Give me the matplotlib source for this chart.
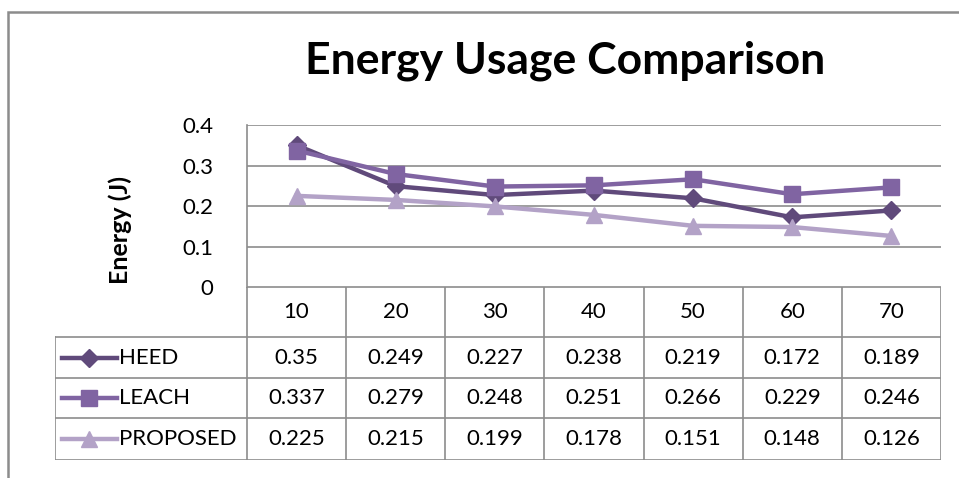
import matplotlib.pyplot as plt
from matplotlib.patches import Rectangle
from matplotlib.lines import Line2D

nodes = [10, 20, 30, 40, 50, 60, 70]
heed = [0.35, 0.249, 0.227, 0.238, 0.219, 0.172, 0.189]
leach = [0.337, 0.279, 0.248, 0.251, 0.266, 0.229, 0.246]
proposed = [0.225, 0.215, 0.199, 0.178, 0.151, 0.148, 0.126]
series_names = ["HEED", "LEACH", "PROPOSED"]
series_data = [heed, leach, proposed]
colors = ["#604A7B", "#8064A2", "#B3A2C7"]
markers = ["D", "s", "^"]
msizes = [9, 12, 12]

W, H = 959, 478
plt.rcParams['font.family'] = ['Lato', 'DejaVu Sans']
fig = plt.figure(figsize=(W / 100, H / 100), dpi=100)


def px(x0, y0, x1, y1):
    return [x0 / W, 1 - y1 / H, (x1 - x0) / W, (y1 - y0) / H]


# outer frame
fig.patches.append(Rectangle((8 / W, -0.1), 1.1, 1 - 12 / H + 0.1, transform=fig.transFigure,
                             fill=False, edgecolor="#8c8c8c", lw=1.8))

fig.text(565 / W, 1 - 61 / H, "Energy Usage Comparison", ha="center", va="center",
         fontsize=32, fontweight="bold")

fs = 16
grid_c = "#8c8c8c"
ax = fig.add_axes(px(247, 125, 941, 287))
x = range(len(nodes))
for name, vals, c, m, ms in zip(series_names, series_data, colors, markers, msizes):
    ax.plot(x, vals, color=c, lw=3.2, marker=m, ms=ms, label=name, zorder=3)
ax.set_xlim(-0.5, len(nodes) - 0.5)
ax.set_ylim(0, 0.4)
ax.set_yticks([0, 0.1, 0.2, 0.3, 0.4])
ax.set_yticklabels(["0", "0.1", "0.2", "0.3", "0.4"])
ax.set_xticks([])
ax.grid(axis="y", color=grid_c, lw=1.2)
for s in ["top", "right", "bottom"]:
    ax.spines[s].set_visible(False)
ax.spines["left"].set_color(grid_c)
ax.spines["left"].set_linewidth(1.2)
ax.tick_params(axis="y", length=0, labelsize=fs, pad=24)
ax.set_ylabel("Energy (J)", fontsize=18, fontweight="bold")
ax.yaxis.set_label_coords(-0.166, 0.35)

# data table (pixel rows: taller header, then three series rows)
row_edges = [287, 337, 378, 418, 460]
col_w = 694 / len(nodes)
leg_w = 192 / col_w
tx = fig.add_axes(px(55, 287, 941, 460))
tx.set_xlim(-0.5 - leg_w, len(nodes) - 0.5)
tx.set_ylim(row_edges[-1], row_edges[0])
tx.axis("off")
lc = dict(color=grid_c, lw=1.2)
tx.plot([-0.5, len(nodes) - 0.5], [row_edges[0]] * 2, **lc)
for i in range(len(nodes) + 1):
    tx.plot([i - 0.5, i - 0.5], [row_edges[0], row_edges[-1]], **lc)
for yy in row_edges[1:]:
    tx.plot([-0.5 - leg_w, len(nodes) - 0.5], [yy, yy], **lc)
tx.plot([-0.5 - leg_w, -0.5 - leg_w], [row_edges[1], row_edges[-1]], **lc)
hy = (row_edges[0] + row_edges[1]) / 2
for i, n in enumerate(nodes):
    tx.text(i, hy, str(n), ha="center", va="center", fontsize=fs)
for j, (name, vals, c, m, ms) in enumerate(zip(series_names, series_data, colors, markers, msizes)):
    yc = (row_edges[j + 1] + row_edges[j + 2]) / 2
    for i, v in enumerate(vals):
        tx.text(i, yc, f"{v:g}", ha="center", va="center", fontsize=fs)
    x0 = -0.5 - leg_w + 7 / col_w
    x1 = x0 + 55 / col_w
    tx.add_line(Line2D([x0, x1], [yc, yc], color=c, lw=3.2))
    tx.add_line(Line2D([(x0 + x1) / 2], [yc], color=c, marker=m, ms=ms, lw=0))
    tx.text(x1 + 2 / col_w, yc, name, ha="left", va="center", fontsize=fs)

fig.savefig("out.png", dpi=100)
